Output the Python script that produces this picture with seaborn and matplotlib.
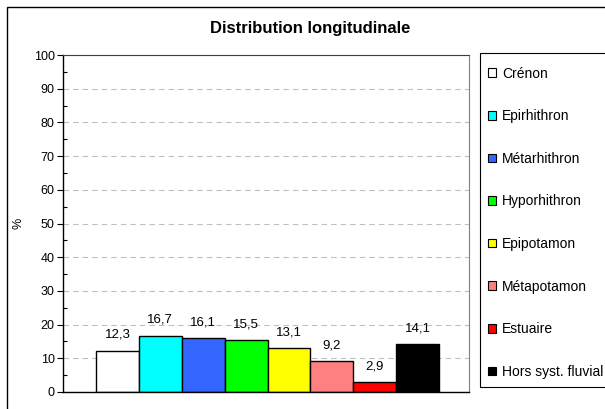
import matplotlib
matplotlib.use("Agg")
import matplotlib.pyplot as plt
from matplotlib.patches import Patch, Rectangle
from matplotlib.ticker import MultipleLocator
import seaborn as sns

zones = ['Crénon', 'Epirhithron', 'Métarhithron', 'Hyporhithron',
         'Epipotamon', 'Métapotamon', 'Estuaire', 'Hors syst. fluvial']
pct = [12.3, 16.7, 16.1, 15.5, 13.1, 9.2, 2.9, 14.1]
labels = ['12,3', '16,7', '16,1', '15,5', '13,1', '9,2', '2,9', '14,1']
colors = ['#FFFFFF', '#00FFFF', '#3366FF', '#00FF00',
          '#FFFF00', '#FF8080', '#FF0000', '#000000']

sns.set_style("white")
plt.rcParams['font.family'] = ['Liberation Sans', 'DejaVu Sans']
plt.rcParams['text.color'] = 'black'
plt.rcParams['axes.labelcolor'] = 'black'
plt.rcParams['ytick.color'] = 'black'

W, H = 605, 409
fig = plt.figure(figsize=(W / 100, H / 100), dpi=100)
ax = fig.add_axes([63 / W, 1 - 392 / H, (469 - 63) / W, (392 - 55) / H])

sns.barplot(x=zones, y=pct, hue=zones, palette=colors, dodge=False, saturation=1,
            width=1, edgecolor='black', linewidth=1, legend=False, ax=ax)

for cont, lab in zip(ax.containers, labels):
    ax.bar_label(cont, labels=[lab], padding=7, fontsize=9.5)

ax.set_xlim(-1.27, 8.2)
ax.set_ylim(0, 100)
ax.yaxis.set_major_locator(MultipleLocator(10))
ax.yaxis.set_minor_locator(MultipleLocator(5))
ax.set_xticks([])
ax.tick_params(axis='y', which='major', direction='out', length=4, width=0.8,
               labelsize=9, pad=2, left=True)
ax.tick_params(axis='y', which='minor', direction='in', length=3, width=0.8, left=True)
ax.set_ylabel('%', fontsize=9)
ax.yaxis.set_label_coords(-39 / (469 - 63), 0.5)

ax.set_axisbelow(True)
ax.grid(axis='y', which='major', color='#C0C0C0', linestyle=(0, (5, 3.6)), linewidth=0.8)
# no grid line under the top border
ax.get_ygridlines()[-1].set_visible(False)

for side in ['left', 'bottom']:
    ax.spines[side].set_color('black')
    ax.spines[side].set_linewidth(1)
ax.spines['top'].set_color('#404040')
ax.spines['right'].set_color('#808080')

fig.text(310 / W, 1 - 28 / H, 'Distribution longitudinale', ha='center', va='center',
         fontsize=12, fontweight='bold')

# legend entries without frame, frame drawn separately
handles = [Patch(facecolor=c, edgecolor='black', linewidth=0.8) for c in colors]
leg = fig.legend(handles, zones, loc='upper left', bbox_to_anchor=(488 / W, 1 - 66.5 / H),
                 fontsize=10, frameon=False,
                 handlelength=0.58, handleheight=0.58, handletextpad=0.43,
                 labelspacing=2.06, borderpad=0, borderaxespad=0)

fig.patches.append(Rectangle((480 / W, 1 - 387 / H), 0.3, (387 - 53) / H,
                             transform=fig.transFigure, fill=False,
                             edgecolor='black', linewidth=0.8))
fig.patches.append(Rectangle((7 / W, -0.1), 1.1, 1.1 - 7 / H, transform=fig.transFigure,
                             fill=False, edgecolor='black', linewidth=1))

fig.savefig('out.png', dpi=100)
